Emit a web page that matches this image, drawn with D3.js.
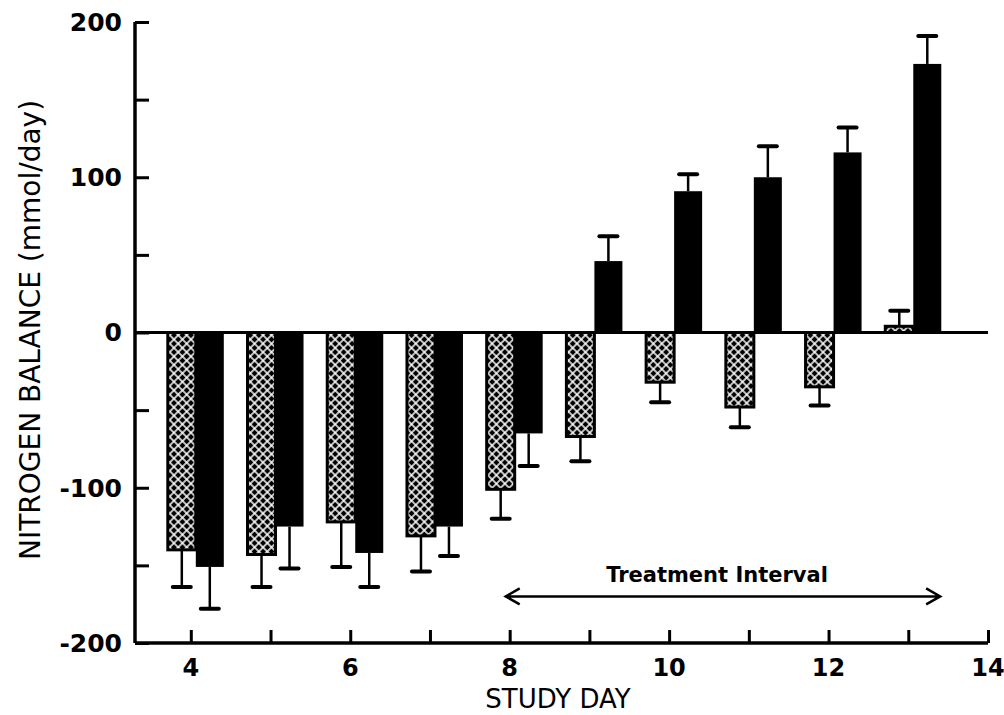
<!DOCTYPE html>
<html>
<head>
<meta charset="utf-8">
<script src="https://cdn.jsdelivr.net/npm/d3@7"></script>
<style>
  body { margin: 0; background: #fff; }
  svg text { font-family: "DejaVu Sans", sans-serif; fill: #000; }
</style>
</head>
<body>
<div id="chart"></div>
<script>
// study days and the two groups (stippled = control, black = treated)
const days = [4, 5, 6, 7, 8, 9, 10, 11, 12, 13];
const controlVals = [-140, -143, -122, -131, -101, -67, -32, -48, -35, 4];
const controlErr = [24, 21, 29, 23, 19, 16, 13, 13, 12, 10];
const treatedVals = [-151, -125, -142, -125, -65, 46, 91, 100, 116, 173];
const treatedErr = [27, 27, 22, 19, 21, 16, 11, 20, 16, 18];

const yTicks = [-200, -150, -100, -50, 0, 50, 100, 150, 200];
const yLabels = [-200, -100, 0, 100, 200];
const xTicks = [4, 5, 6, 7, 8, 9, 10, 11, 12, 13, 14];
const xLabels = [4, 6, 8, 10, 12, 14];
const treatment = { from: 7.95, to: 13.4, value: -170, label: "Treatment Interval" };

const width = 1004, height = 715;
const svg = d3.select("#chart").append("svg")
    .attr("width", width)
    .attr("height", height);

const x = d3.scaleLinear().domain([3.3, 14]).range([135, 988]);
const y = d3.scaleLinear().domain([-200, 200]).range([643, 22]);

const barW = 28;
const shift = 5;

// stipple pattern
const defs = svg.append("defs");
const pat = defs.append("pattern")
    .attr("id", "stipple")
    .attr("patternUnits", "userSpaceOnUse")
    .attr("width", 6)
    .attr("height", 6)
    .attr("patternTransform", "rotate(45)");
pat.append("rect").attr("width", 6).attr("height", 6).attr("fill", "#000");
pat.append("path")
    .attr("d", "M0,3H6M3,0V6")
    .attr("stroke", "#fff")
    .attr("stroke-width", 1.5);

const data = days.map((d, i) => ({
    day: d, c: controlVals[i], ce: controlErr[i], t: treatedVals[i], te: treatedErr[i]
}));

// error bars (drawn first so bars sit on top)
function errBar(cx, v, e) {
    const end = v >= 0 ? v + e : v - e;
    svg.append("line")
        .attr("x1", cx).attr("x2", cx)
        .attr("y1", y(v)).attr("y2", y(end))
        .attr("stroke", "#000").attr("stroke-width", 2.5);
    svg.append("line")
        .attr("x1", cx - 9).attr("x2", cx + 9)
        .attr("y1", y(end)).attr("y2", y(end))
        .attr("stroke", "#000").attr("stroke-width", 4)
        .attr("stroke-linecap", "round");
}
data.forEach(d => {
    errBar(x(d.day) + shift - barW / 2, d.c, d.ce);
    errBar(x(d.day) + shift + barW / 2, d.t, d.te);
});

// control bars
svg.selectAll(".ctrl")
    .data(data)
    .enter()
    .append("rect")
    .attr("class", "ctrl")
    .attr("x", d => x(d.day) + shift - barW)
    .attr("y", d => y(Math.max(0, d.c)))
    .attr("width", barW)
    .attr("height", d => Math.abs(y(d.c) - y(0)))
    .attr("fill", "url(#stipple)")
    .attr("stroke", "#000")
    .attr("stroke-width", 3);

// treated bars
svg.selectAll(".trt")
    .data(data)
    .enter()
    .append("rect")
    .attr("class", "trt")
    .attr("x", d => x(d.day) + shift)
    .attr("y", d => y(Math.max(0, d.t)))
    .attr("width", barW)
    .attr("height", d => Math.abs(y(d.t) - y(0)))
    .attr("fill", "#000");

// zero line
svg.append("line")
    .attr("x1", x(3.3)).attr("x2", x(14))
    .attr("y1", y(0)).attr("y2", y(0))
    .attr("stroke", "#000").attr("stroke-width", 3);

// y axis
const yAxis = svg.append("g").attr("transform", `translate(${x(3.3)},0)`)
    .call(d3.axisRight(y).tickValues(yTicks).tickSize(14).tickFormat(""));
yAxis.select(".domain").remove();
yAxis.selectAll(".tick line").attr("stroke", "#000").attr("stroke-width", 3);
svg.append("line")
    .attr("x1", x(3.3)).attr("x2", x(3.3))
    .attr("y1", y(200)).attr("y2", y(-200))
    .attr("stroke", "#000").attr("stroke-width", 3.5);
svg.selectAll(".ylab")
    .data(yLabels)
    .enter()
    .append("text")
    .attr("x", 122)
    .attr("y", d => y(d))
    .attr("dy", "0.35em")
    .attr("text-anchor", "end")
    .attr("font-size", 25)
    .attr("font-weight", "bold")
    .text(d => d < 0 ? "-" + Math.abs(d) : d);

// x axis
const xAxis = svg.append("g").attr("transform", `translate(0,${y(-200)})`)
    .call(d3.axisTop(x).tickValues(xTicks).tickSize(13).tickFormat(""));
xAxis.select(".domain").remove();
xAxis.selectAll(".tick line").attr("stroke", "#000").attr("stroke-width", 3);
svg.append("line")
    .attr("x1", x(3.3)).attr("x2", x(14))
    .attr("y1", y(-200)).attr("y2", y(-200))
    .attr("stroke", "#000").attr("stroke-width", 3.5);
svg.selectAll(".xlab")
    .data(xLabels)
    .enter()
    .append("text")
    .attr("x", d => x(d))
    .attr("y", 676)
    .attr("text-anchor", "middle")
    .attr("font-size", 24)
    .attr("font-weight", "bold")
    .text(d => d);

// axis titles
svg.append("text")
    .attr("x", 558)
    .attr("y", 708)
    .attr("text-anchor", "middle")
    .attr("font-size", 26)
    .text("STUDY DAY");
svg.append("text")
    .attr("transform", "translate(40,330) rotate(-90)")
    .attr("text-anchor", "middle")
    .attr("font-size", 28)
    .text("NITROGEN BALANCE (mmol/day)");

// treatment interval arrow
const ay = y(treatment.value);
const ax1 = x(treatment.from), ax2 = x(treatment.to);
svg.append("path")
    .attr("d", `M${ax1},${ay}H${ax2}M${ax1 + 14},${ay - 8}L${ax1},${ay}L${ax1 + 14},${ay + 8}M${ax2 - 14},${ay - 8}L${ax2},${ay}L${ax2 - 14},${ay + 8}`)
    .attr("fill", "none")
    .attr("stroke", "#000")
    .attr("stroke-width", 2.5);
svg.append("text")
    .attr("x", 717)
    .attr("y", 582)
    .attr("text-anchor", "middle")
    .attr("font-size", 21)
    .attr("font-weight", "bold")
    .text(treatment.label);
</script>
</body>
</html>
